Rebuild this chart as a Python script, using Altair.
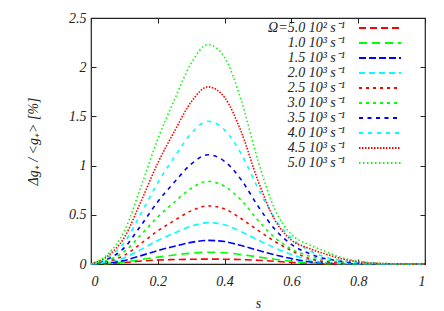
import altair as alt
import pandas as pd

s_grid = [0.0, 0.05, 0.1, 0.15, 0.2, 0.25, 0.3, 0.35, 0.4, 0.45, 0.5,
          0.55, 0.6, 0.65, 0.7, 0.75, 0.8, 0.85, 0.9, 0.95, 1.0]

labels = ["Ω=5.0 10² s⁻¹", "1.0 10³ s⁻¹", "1.5 10³ s⁻¹", "2.0 10³ s⁻¹",
          "2.5 10³ s⁻¹", "3.0 10³ s⁻¹", "3.5 10³ s⁻¹", "4.0 10³ s⁻¹",
          "4.5 10³ s⁻¹", "5.0 10³ s⁻¹"]

s1 = [0, 0.005, 0.015, 0.03, 0.04, 0.045, 0.048, 0.05, 0.049, 0.045, 0.038, 0.028, 0.016, 0.008, 0.003, 0.001, 0, 0, 0, 0, 0]
s2 = [0, 0.006, 0.02, 0.045, 0.07, 0.092, 0.11, 0.12, 0.115, 0.095, 0.072, 0.048, 0.028, 0.012, 0.005, 0.002, 0.001, 0, 0, 0, 0]
s3 = [0, 0.011, 0.036, 0.085, 0.137, 0.18, 0.22, 0.24, 0.228, 0.187, 0.139, 0.094, 0.055, 0.024, 0.01, 0.005, 0.002, 0, 0, 0, 0]
s4 = [0, 0.019, 0.063, 0.149, 0.239, 0.315, 0.384, 0.42, 0.399, 0.328, 0.244, 0.164, 0.097, 0.042, 0.017, 0.008, 0.004, 0, 0, 0, 0]
s5 = [0, 0.027, 0.089, 0.209, 0.336, 0.443, 0.54, 0.59, 0.56, 0.46, 0.342, 0.23, 0.136, 0.059, 0.024, 0.012, 0.006, 0, 0, 0, 0]
s6 = [0, 0.038, 0.126, 0.298, 0.479, 0.63, 0.769, 0.84, 0.79, 0.647, 0.445, 0.269, 0.151, 0.084, 0.042, 0.021, 0.008, 0.003, 0, 0, 0]
s7 = [0, 0.05, 0.167, 0.394, 0.633, 0.833, 1.016, 1.11, 1.043, 0.855, 0.588, 0.355, 0.2, 0.111, 0.056, 0.028, 0.011, 0.004, 0, 0, 0]
s8 = [0, 0.065, 0.218, 0.515, 0.827, 1.088, 1.327, 1.45, 1.363, 1.117, 0.769, 0.464, 0.261, 0.145, 0.073, 0.036, 0.015, 0.005, 0, 0, 0]
s9 = [0, 0.081, 0.27, 0.639, 1.026, 1.35, 1.647, 1.80, 1.692, 1.341, 0.846, 0.45, 0.243, 0.162, 0.104, 0.054, 0.023, 0.009, 0.002, 0, 0]
s10 = [0, 0.1, 0.335, 0.79, 1.27, 1.67, 2.04, 2.23, 2.10, 1.66, 1.05, 0.56, 0.30, 0.20, 0.13, 0.065, 0.03, 0.01, 0.003, 0, 0]
series_values = [s1, s2, s3, s4, s5, s6, s7, s8, s9, s10]

colors = ["#ff0000", "#00ff00", "#0000ff", "#00ffff",
          "#ff0000", "#00ff00", "#0000ff", "#00ffff",
          "#ff0000", "#00ff00"]
dashes = [[7, 4], [8, 5], [7, 3], [6, 4], [3, 4], [3, 4], [4, 4.5], [4, 5], [1.5, 1.5], [1.5, 2.5]]

x_ticks = [0, 0.2, 0.4, 0.6, 0.8, 1.0]
y_ticks = [0, 0.5, 1.0, 1.5, 2.0, 2.5]

rows = []
for lab, vals in zip(labels, series_values):
    for s, v in zip(s_grid, vals):
        rows.append({"s": s, "v": v, "series": lab})
df = pd.DataFrame(rows)

FONT = "Liberation Serif"

xscale = alt.Scale(domain=[0, 1], nice=False, zero=False)
yscale = alt.Scale(domain=[0, 2.5], nice=False, zero=False)

lines = alt.Chart(df).mark_line(strokeWidth=1.6, interpolate="monotone").encode(
    x=alt.X("s:Q", scale=xscale, axis=alt.Axis(
        orient="bottom", values=x_ticks, format="~g", title="s", offset=-5,
        tickSize=5, domain=False, grid=False, labelPadding=10, titlePadding=8)),
    y=alt.Y("v:Q", scale=yscale, axis=alt.Axis(
        orient="left", values=y_ticks, format="~g", title="Δg₊ / <g₊> [%]", offset=-5,
        tickSize=5, domain=False, grid=False, labelPadding=5, titlePadding=28)),
    color=alt.Color("series:N", sort=labels,
                    scale=alt.Scale(domain=labels, range=colors),
                    legend=alt.Legend(
                        orient="none", legendX=282, legendY=3, title=None,
                        symbolType="M-4.2,0H4.2", symbolSize=100, symbolStrokeWidth=2,
                        labelFont=FONT, labelFontStyle="italic", labelFontSize=14,
                        labelColor="#222", labelAlign="right",
                        labelOffset=alt.ExprRef(expr="-42"),
                        rowPadding=1, padding=0)),
    strokeDash=alt.StrokeDash("series:N", sort=labels,
                              scale=alt.Scale(domain=labels, range=dashes)),
    order=alt.Order("s:Q"),
)

frame = alt.Chart(df).mark_line(opacity=0).encode(
    x=alt.X("s:Q", scale=xscale, axis=alt.Axis(
        orient="top", values=x_ticks, labels=False, title=None, offset=-5,
        tickSize=5, domain=False, grid=False)),
    y=alt.Y("v:Q", scale=yscale, axis=alt.Axis(
        orient="right", values=y_ticks, labels=False, title=None, offset=-5,
        tickSize=5, domain=False, grid=False)),
    detail="series:N",
)

chart = alt.layer(lines, frame).resolve_axis(
    x="independent", y="independent"
).properties(
    width=334, height=246,
    autosize=alt.AutoSizeParams(type="none"),
    padding={"left": 83, "top": 10, "right": 11, "bottom": 45},
).configure_view(
    stroke="#222", strokeWidth=1.2
).configure_axis(
    labelFont=FONT, labelFontStyle="italic", labelFontSize=14, labelColor="#222",
    titleFont=FONT, titleFontStyle="italic", titleFontSize=14, titleFontWeight="normal",
    titleColor="#222", tickColor="#222", tickWidth=1
)

chart.save("out.html", embed_options={"renderer": "svg", "actions": False})
